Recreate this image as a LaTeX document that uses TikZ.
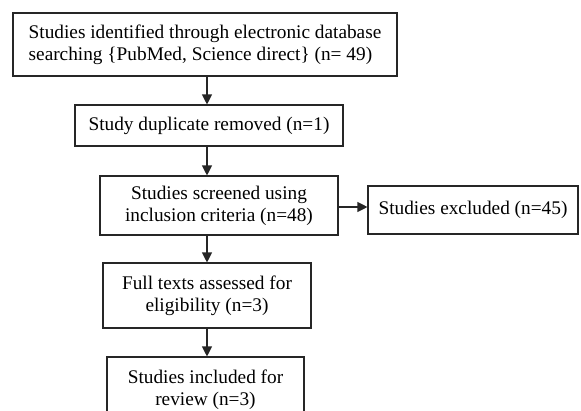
\documentclass[tikz,border=0pt]{standalone}
\usepackage{fontspec}
\setmainfont{Liberation Serif}
\usetikzlibrary{arrows.meta}
\begin{document}
\begin{tikzpicture}[x=1pt,y=-1pt,
  box/.style={draw=black!85, line width=1.1pt, inner sep=0pt, font=\fontsize{19.3}{22}\selectfont, align=center},
  arr/.style={draw=black!85, line width=1.1pt, -{Triangle[length=10pt,width=10pt]}}]
\clip (0,0) rectangle (581,410);
\fill[white] (0,0) rectangle (581,410);
\node[box, minimum width=384pt, minimum height=63pt, align=left] (b1) at (205,44.5) {Studies identified through electronic database\\searching \{PubMed, Science direct\} (n= 49)};
\node[box, minimum width=268pt, minimum height=41pt] (b2) at (209,125.5) {Study duplicate removed (n=1)};
\node[box, minimum width=238pt, minimum height=59pt] (b3) at (219,205.5) {Studies screened using\\inclusion criteria (n=48)};
\node[box, minimum width=210pt, minimum height=48pt] (ex) at (473,210) {Studies excluded (n=45)};
\node[box, minimum width=208pt, minimum height=65pt] (b4) at (207,295.5) {Full texts assessed for\\eligibility (n=3)};
\node[box, minimum width=197pt, minimum height=65pt] (b5) at (205.5,389.5) {Studies included for\\review (n=3)};
\coordinate (ax) at (207,0);
\coordinate (ay) at (0,207);
\draw[arr] (b1.south -| ax) -- (b2.north -| ax);
\draw[arr] (b2.south -| ax) -- (b3.north -| ax);
\draw[arr] (b3.south -| ax) -- (b4.north -| ax);
\draw[arr] (b4.south -| ax) -- (b5.north -| ax);
\draw[arr] (b3.east |- ay) -- (ex.west |- ay);
\end{tikzpicture}
\end{document}
